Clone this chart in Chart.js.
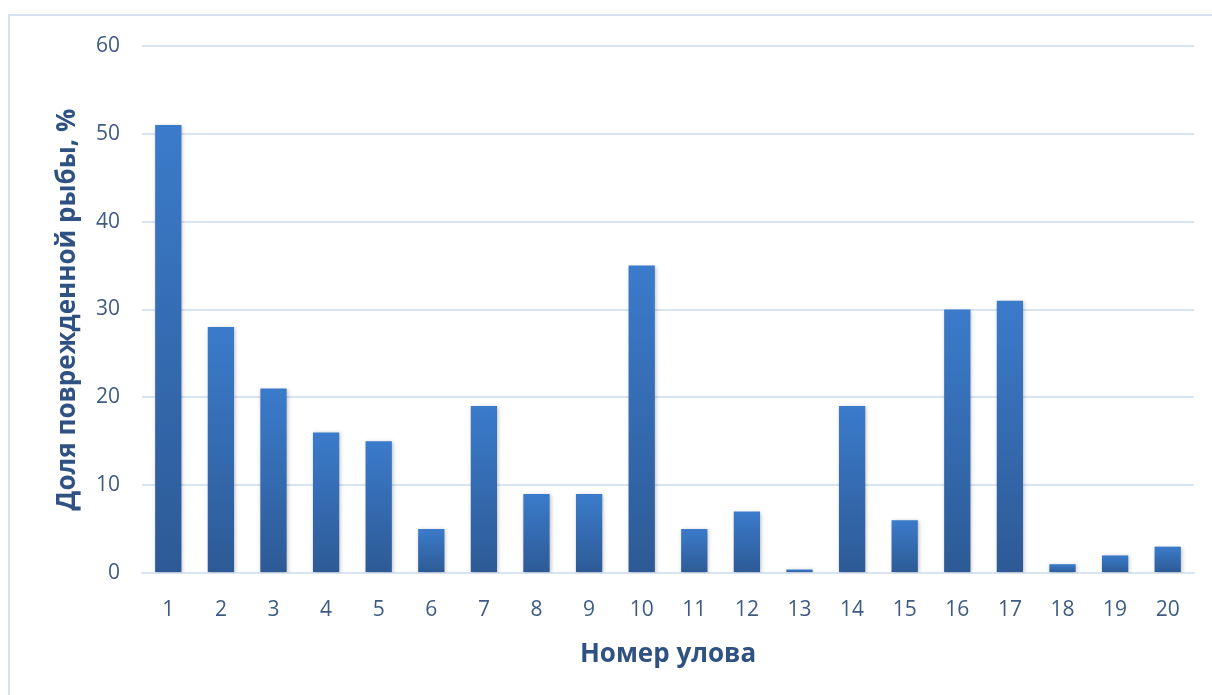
<!DOCTYPE html>
<html>
<head>
<meta charset="utf-8">
<script src="https://cdn.jsdelivr.net/npm/chart.js@4.4.1/dist/chart.umd.min.js"></script>
<style>
  body { margin: 0; background: #fff; }
  #frame { position: absolute; left: 8px; top: 14px; width: 1220px; height: 700px; border: 2px solid #d7e3f3; box-sizing: border-box; }
  #wrap { position: absolute; left: 0; top: 0; width: 1212px; height: 695px; }
</style>
</head>
<body>
<div id="frame"></div>
<div id="wrap"><canvas id="chart"></canvas></div>
<script>
const catches = ['1','2','3','4','5','6','7','8','9','10','11','12','13','14','15','16','17','18','19','20']
const damagedShare = [51, 28, 21, 16, 15, 5, 19, 9, 9, 35, 5, 7, 0.4, 19, 6, 30, 31, 1, 2, 3]
const yTicks = [0, 10, 20, 30, 40, 50, 60]

const textColor = '#3e5b82'
const titleColor = '#2f5282'
const gridColor = '#d9e4f3'

// vertical gradient per bar, light on top, dark at the base
function barGradient(context) {
  const chart = context.chart
  if (!chart.chartArea) return '#3570b8'
  const y = chart.scales.y
  const top = y.getPixelForValue(context.raw)
  const base = y.getPixelForValue(0)
  if (!(base - top > 0)) return '#3570b8'
  const g = chart.ctx.createLinearGradient(0, top, 0, base)
  g.addColorStop(0, '#3b7bcb')
  g.addColorStop(1, '#2d5a95')
  return g
}

const shadowPlugin = {
  id: 'barShadow',
  beforeDatasetsDraw(chart) {
    const ctx = chart.ctx
    ctx.save()
    ctx.shadowColor = 'rgba(0,0,0,0.25)'
    ctx.shadowBlur = 4
    ctx.shadowOffsetX = 1
    ctx.shadowOffsetY = 1
  },
  afterDatasetsDraw(chart) {
    chart.ctx.restore()
  }
}

new Chart(document.getElementById('chart'), {
  type: 'bar',
  data: {
    labels: catches,
    datasets: [{
      data: damagedShare,
      backgroundColor: barGradient,
      borderWidth: 0,
      barPercentage: 0.5,
      categoryPercentage: 1.0
    }]
  },
  plugins: [shadowPlugin],
  options: {
    responsive: true,
    maintainAspectRatio: false,
    animation: false,
    layout: { padding: { left: 0, right: 18, top: 46, bottom: 0 } },
    plugins: { legend: { display: false }, tooltip: { enabled: false } },
    scales: {
      x: {
        afterFit: axis => { axis.height = 122 },
        grid: { display: false, drawTicks: false },
        border: { display: true, color: gridColor, width: 2 },
        ticks: { color: textColor, padding: 24, font: { family: 'Open Sans', size: 21 } },
        title: {
          display: true,
          text: 'Номер улова',
          color: titleColor,
          padding: { top: 0, bottom: 25 },
          font: { family: 'Open Sans', size: 26, weight: 'bold' }
        }
      },
      y: {
        min: 0,
        max: 60,
        afterBuildTicks: axis => { axis.ticks = yTicks.map(v => ({ value: v })) },
        afterFit: axis => { axis.width = 142 },
        grid: { color: gridColor, lineWidth: 2, drawTicks: false },
        border: { display: false },
        ticks: { color: textColor, padding: 22, font: { family: 'Open Sans', size: 21 } },
        title: {
          display: true,
          text: 'Доля поврежденной рыбы, %',
          color: titleColor,
          padding: { top: 52, bottom: 0 },
          font: { family: 'Open Sans', size: 26, weight: 'bold' }
        }
      }
    }
  }
})
</script>
</body>
</html>
